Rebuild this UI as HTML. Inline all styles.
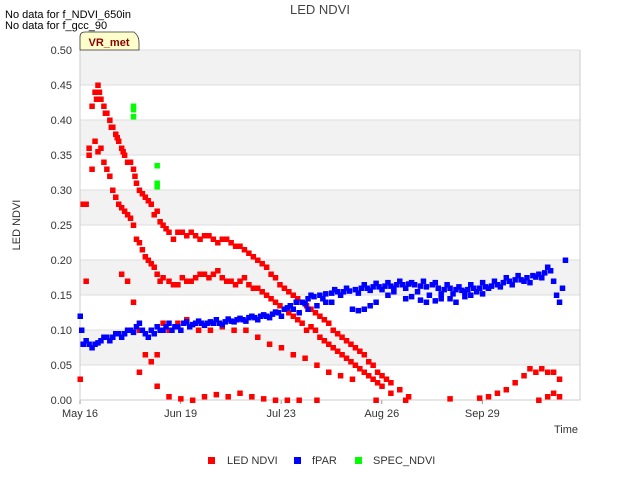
<!DOCTYPE html>
<html><head><meta charset="utf-8"><style>
body{margin:0;background:#fff;font-family:"Liberation Sans",sans-serif;}
svg text{font-family:"Liberation Sans",sans-serif;}
</style></head><body>
<svg id="c" width="640" height="480">
<text x="5" y="18" font-size="11" fill="#000">No data for f_NDVI_650in</text>
<text x="5" y="29" font-size="11" fill="#000">No data for f_gcc_90</text>
<text x="320" y="14" font-size="13" fill="#444" text-anchor="middle">LED NDVI</text>
<g id="plot"></g>
<text transform="translate(20,225) rotate(-90)" font-size="11" fill="#333" text-anchor="middle">LED NDVI</text>
<text x="578" y="433" font-size="11" fill="#333" text-anchor="end">Time</text>
<g>
<path d="M80,50 L80,37 Q80,32 85,32 L134,32 Q139,36 139,42 L139,50 Z" fill="#ffffcc" stroke="#333" stroke-width="0.8"/>
<text x="109" y="46" font-size="11" font-weight="bold" fill="#8b0000" text-anchor="middle">VR_met</text>
</g>
<g>
<g><rect x="208" y="457" width="7" height="7" fill="#f00"/><text x="227" y="464" font-size="11" fill="#333">LED NDVI</text></g>
<g><rect x="294" y="457" width="7" height="7" fill="#00f"/><text x="312" y="464" font-size="11" fill="#333">fPAR</text></g>
<g><rect x="355" y="457" width="7" height="7" fill="#0f0"/><text x="373" y="464" font-size="11" fill="#333">SPEC_NDVI</text></g>
</g>
</svg>
<script>
const yTicks=[0,0.05,0.1,0.15,0.2,0.25,0.3,0.35,0.4,0.45,0.5];
const yTickLabels=["0.00","0.05","0.10","0.15","0.20","0.25","0.30","0.35","0.40","0.45","0.50"];
const xTickDays=[0,34,68,102,136];
const xTickLabels=["May 16","Jun 19","Jul 23","Aug 26","Sep 29"];
const ledDays=[1,3,4,5,6,7,8,9,10,11,12,13,14,15,16,17,18,19,20,22,24,26,28,30,33,36,39,42,45,48,51,54,57,60,63,66,69,72,75,78,81,84,87,90,93,96,99,102,105,108,111,
2,4,5,7,9,11,13,15,17,19,21,23,25,27,30,33,36,39,42,45,48,51,54,57,60,63,66,69,72,75,78,81,84,87,90,93,96,99,102,105,
0,1,2,14,16,18,20,22,24,26,28,30,33,36,40,44,48,52,56,60,64,68,72,76,80,84,88,92,
20,26,30,34,38,42,46,50,54,58,62,66,70,74,80,100,110,125,135,
138,141,144,147,150,152,154,156,158,160,162,155,158,160,162,
5.5,6.5,8.5,10.5,12.5,14.5,16.5,18.5,21,23,25,27,29,31.5,34.5,37.5,40.5,43.5,46.5,49.5,52.5,55.5,58.5,61.5,64.5,67.5,70.5,73.5,76.5,79.5,82.5,85.5,88.5,91.5,94.5,97.5,100.5,103.5,
3,6,8,10,12,14,16,18,20,22,24,26,28,31.5,34.5,37.5,40.5,43.5,46.5,49.5,52.5,55.5,58.5,61.5,64.5,67.5,70.5,73.5,76.5,79.5,82.5,85.5,88.5,91.5,94.5,97.5,100.5];
const ledValues=[0.28,0.36,0.42,0.44,0.45,0.43,0.42,0.41,0.40,0.39,0.38,0.37,0.36,0.35,0.34,0.34,0.33,0.31,0.30,0.29,0.28,0.27,0.25,0.24,0.24,0.235,0.235,0.235,0.23,0.23,0.225,0.22,0.21,0.20,0.19,0.175,0.16,0.15,0.14,0.13,0.12,0.11,0.095,0.085,0.075,0.065,0.05,0.035,0.025,0.015,0.005,
0.28,0.33,0.37,0.36,0.33,0.30,0.28,0.27,0.26,0.23,0.215,0.20,0.19,0.17,0.17,0.165,0.17,0.175,0.18,0.18,0.175,0.17,0.17,0.165,0.16,0.15,0.14,0.13,0.12,0.11,0.105,0.09,0.08,0.07,0.06,0.05,0.04,0.03,0.02,0.01,
0.03,0.08,0.17,0.18,0.17,0.14,0.10,0.065,0.055,0.065,0.11,0.10,0.11,0.115,0.10,0.10,0.105,0.10,0.10,0.09,0.08,0.075,0.065,0.06,0.05,0.04,0.035,0.03,
0.04,0.02,0.005,0.002,0,0.005,0.008,0.005,0.01,0.005,0.002,0,0,0,0,0,0,0.002,0.003,
0.005,0.01,0.015,0.025,0.035,0.045,0.04,0.045,0.04,0.04,0.03,0,0.005,0.01,0.005,
0.43,0.44,0.41,0.39,0.375,0.355,0.34,0.32,0.295,0.285,0.265,0.255,0.245,0.23,0.24,0.24,0.23,0.235,0.225,0.23,0.22,0.215,0.205,0.195,0.18,0.165,0.155,0.145,0.135,0.125,0.115,0.10,0.09,0.08,0.07,0.055,0.04,0.03,
0.35,0.355,0.34,0.32,0.29,0.275,0.265,0.25,0.225,0.205,0.195,0.18,0.175,0.165,0.175,0.17,0.18,0.175,0.185,0.17,0.165,0.175,0.16,0.155,0.145,0.135,0.125,0.115,0.10,0.10,0.085,0.075,0.065,0.055,0.045,0.035,0.025];
const fparDays=[0,0.5,1,3,5,7,9,11,13,15,17,19,21,23,25,27,29,31,33,35,37,39,41,43,45,47,49,51,53,55,57,59,61,63,65,67,69,71,73,75,77,79,81,83,85,87,89,91,93,95,97,99,101,103,105,107,109,111,113,115,117,119,121,123,125,127,129,131,133,135,137,139,141,143,145,147,149,151,153,155,157,159,160,161,162,163,164,
74,77,80,83,85,92,94,96,98,100,104,110,115,120,125,130,
2,4,6,8,10,12,14,16,18,20,22,24,26,28,30,32,34,36,38,40,42,44,46,48,50,52,54,56,58,60,62,64,66,68,70,72,76,78,82,86,88,90,94,96,98,100,102,104,106,108,110,112,114,116,118,120,122,124,126,128,130,132,134,136,138,140,142,144,146,148,150,152,154,156,158,
106,112,117,122,127,132,136];
const fparValues=[0.12,0.10,0.08,0.08,0.08,0.085,0.09,0.09,0.095,0.095,0.10,0.105,0.10,0.09,0.095,0.10,0.105,0.10,0.105,0.11,0.105,0.11,0.11,0.11,0.11,0.11,0.112,0.113,0.115,0.115,0.118,0.118,0.12,0.12,0.123,0.125,0.13,0.135,0.14,0.14,0.145,0.148,0.15,0.152,0.153,0.155,0.155,0.156,0.158,0.16,0.16,0.162,0.162,0.163,0.163,0.165,0.165,0.166,0.165,0.163,0.162,0.165,0.16,0.158,0.16,0.158,0.157,0.158,0.16,0.16,0.162,0.163,0.165,0.168,0.17,0.172,0.172,0.175,0.178,0.18,0.182,0.185,0.17,0.15,0.14,0.16,0.20,
0.125,0.13,0.135,0.14,0.14,0.13,0.128,0.13,0.135,0.14,0.15,0.145,0.143,0.142,0.145,0.148,
0.085,0.075,0.082,0.09,0.085,0.095,0.09,0.10,0.097,0.11,0.095,0.10,0.105,0.10,0.11,0.105,0.10,0.112,0.108,0.113,0.107,0.112,0.115,0.108,0.116,0.112,0.117,0.113,0.12,0.115,0.122,0.118,0.126,0.12,0.132,0.13,0.138,0.15,0.145,0.158,0.15,0.16,0.153,0.165,0.157,0.167,0.158,0.168,0.16,0.17,0.16,0.168,0.155,0.17,0.15,0.168,0.152,0.165,0.152,0.162,0.155,0.165,0.155,0.168,0.16,0.17,0.162,0.175,0.165,0.178,0.17,0.168,0.176,0.175,0.19,
0.155,0.148,0.14,0.145,0.14,0.15,0.152];
const specDays=[18,18,18,26,26,26];
const specValues=[0.42,0.415,0.405,0.335,0.31,0.305];

const X0=80,X1=580,Y0=400,Y1=50,DAYMAX=169;
const sx=d=>X0+d*(X1-X0)/DAYMAX;
const sy=v=>Y0-v*(Y0-Y1)/0.5;
const NS="http://www.w3.org/2000/svg";
const g=document.getElementById('plot');
function mk(t,a){const e=document.createElementNS(NS,t);for(const k in a)e.setAttribute(k,a[k]);g.appendChild(e);return e;}
for(let i=0;i<yTicks.length-1;i++){
  if(i%2===1){const r=mk('rect',{x:X0,y:sy(yTicks[i+1]),width:X1-X0,height:sy(yTicks[i])-sy(yTicks[i+1]),fill:'#f2f2f2'});
  
  }
}
yTicks.forEach((v,i)=>{
  const l=mk('line',{x1:X0,x2:X1,y1:sy(v),y2:sy(v),stroke:'#ddd','stroke-width':1});
  
  
  const t=mk('text',{x:72,y:sy(v)+4,'font-size':11,fill:'#333','text-anchor':'end'});
  t.textContent=yTickLabels[i];
  
  
});
xTickDays.forEach((d,i)=>{
  const t=mk('text',{x:sx(d),y:417,'font-size':11,fill:'#333','text-anchor':'middle'});
  t.textContent=xTickLabels[i];
  
  
  const k=mk('line',{x1:sx(d),x2:sx(d),y1:Y0,y2:Y0+4,stroke:'#999'});
  
  
});
const ax=mk('path',{d:`M${X0},${Y1}V${Y0}H${X1}V${Y1}`,fill:'none',stroke:'#ccc','stroke-width':1});


function series(days,vals,color,name){
  days.forEach((d,i)=>{
    const r=mk('rect',{x:sx(d)-2.5,y:sy(vals[i])-2.5,width:5.5,height:5.5,fill:color});
    
    
  });
}
series(ledDays,ledValues,'#f00','led-ndvi-point');
series(fparDays,fparValues,'#00f','fpar-point');
series(specDays,specValues,'#0f0','spec-ndvi-point');
</script>
</body></html>
